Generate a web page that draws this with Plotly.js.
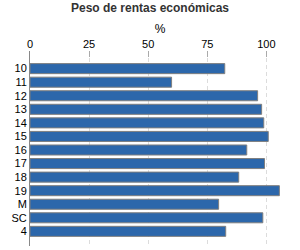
<!DOCTYPE html>
<html>
<head>
<meta charset="utf-8">
<script src="https://cdn.plot.ly/plotly-3.0.1.min.js"></script>
<style>html,body{margin:0;padding:0;background:#fff;}#chart{width:300px;height:250px;}</style>
</head>
<body>
<div id="chart"></div>
<script>
const categories = ["10","11","12","13","14","15","16","17","18","19","M","SC","4"];
const values = [82.4, 59.9, 96.3, 98.0, 98.9, 100.8, 91.7, 99.2, 88.3, 105.5, 79.8, 98.5, 82.8];
const xTicks = [0, 25, 50, 75, 100];
const chartTitle = "Peso de rentas económicas";
const xTitle = "%";

const trace = {
  type: "bar",
  orientation: "h",
  y: categories,
  x: values,
  marker: {color: "#2c67ab", line: {color: "#7f7f7f", width: 1}},
  hoverinfo: "none"
};

const layout = {
  width: 300, height: 250,
  margin: {l: 30, r: 10, t: 51, b: 4},
  paper_bgcolor: "#fff", plot_bgcolor: "#fff",
  showlegend: false,
  bargap: 0.26,
  font: {family: "Liberation Sans, Arial, sans-serif", size: 11, color: "#000"},
  title: {text: "<b>" + chartTitle + "</b>", font: {size: 12, color: "#333"}, x: 0.5, xanchor: "center", y: 0.985, yanchor: "top"},
  xaxis: {
    side: "top",
    range: [0, 110],
    tickvals: xTicks,
    ticktext: xTicks.map(String),
    ticks: "inside", ticklen: 6, tickcolor: "#aaa", tickwidth: 1,
    showgrid: true, gridcolor: "#dcdcdc", griddash: "4px,3px", gridwidth: 1,
    zeroline: false, showline: false,
    tickfont: {size: 11, color: "#000"},
    title: {text: xTitle, font: {size: 12, color: "#000"}, standoff: 1}
  },
  yaxis: {
    type: "category",
    range: [13.08, -1.3],
    showline: true, linecolor: "#888", linewidth: 1,
    showgrid: false, zeroline: false,
    ticks: "",
    tickfont: {size: 11, color: "#000"}
  }
};

Plotly.newPlot("chart", [trace], layout, {displayModeBar: false, staticPlot: true});
</script>
</body>
</html>
